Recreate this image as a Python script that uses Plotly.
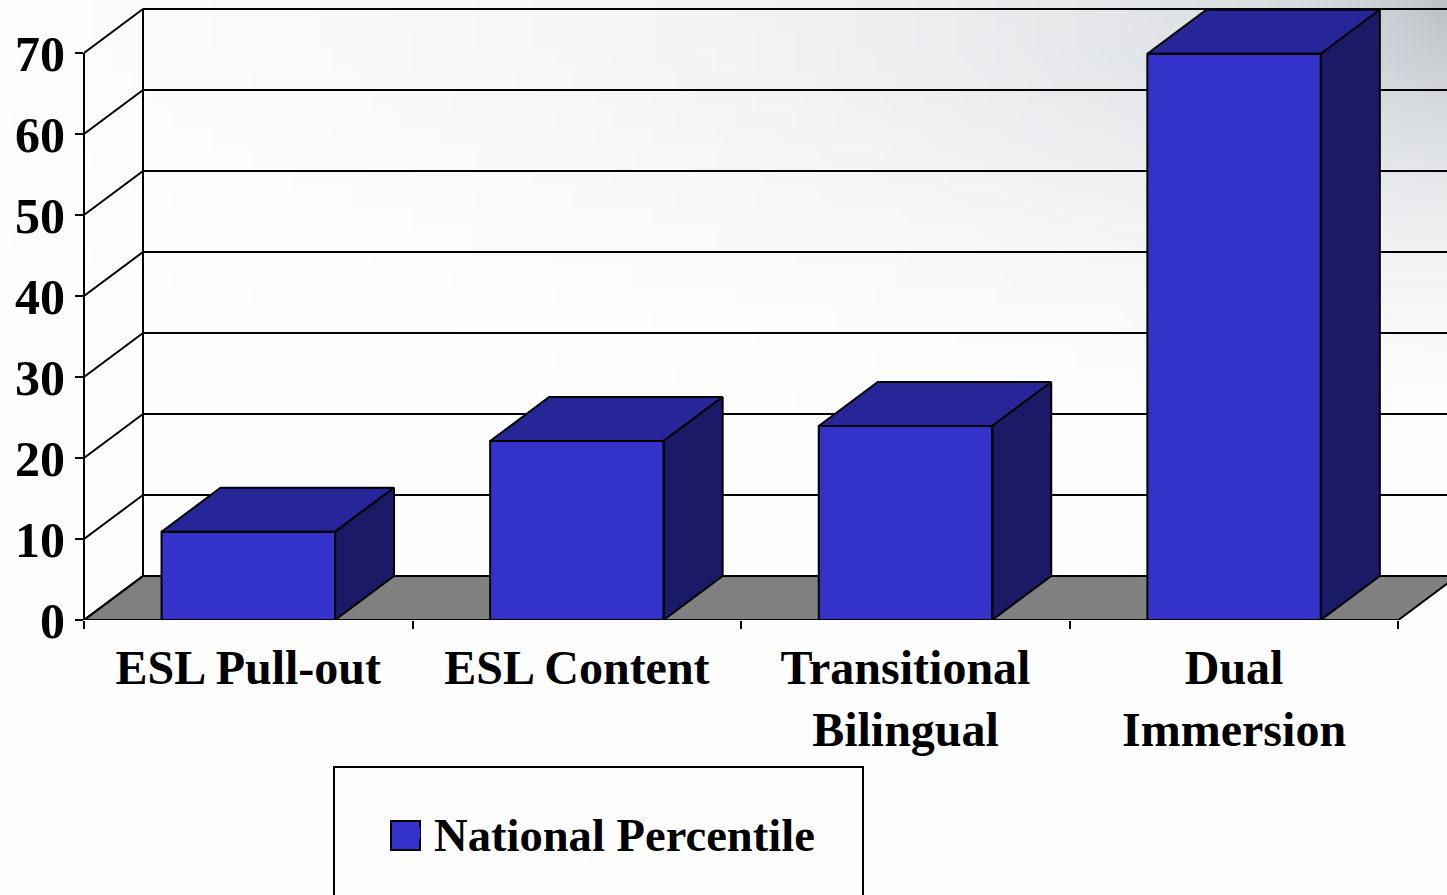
import base64, math, struct, zlib
import plotly.graph_objects as go

categories = ["ESL Pull-out", "ESL Content", "Transitional<br>Bilingual", "Dual<br>Immersion"]
values = [10.9, 22.1, 23.95, 69.9]
y_ticks = [0, 10, 20, 30, 40, 50, 60, 70]
series_name = "National Percentile"

W, H = 1447, 895
L, B_PX = 84, 620
CAT_PX, UNIT_PX = 328.6, 8.1
DX, DY = 59 / CAT_PX, 44 / UNIT_PX
BAR_W = 0.528
FRONT, TOP, SIDE, FLOOR = "#3333CC", "#262699", "#1A1A66", "#808080"
FONT = "Liberation Serif"
LW = 2

xpos = list(range(len(categories)))
x_lo, x_hi = -0.5, -0.5 + (W - L) / CAT_PX
y_hi = B_PX / UNIT_PX


def png_uri(w, h):
    rows = b""
    for j in range(h):
        rows += b"\0"
        for i in range(w):
            px, py = i / (w - 1), j / (h - 1)
            d = math.hypot(0.75 * (1 - px) ** 0.6, py / 0.6)
            t = max(0.0, 1 - d) ** 2.5
            rows += bytes((round(254 - 66 * t), round(254 - 60 * t), round(255 - 56 * t)))
    def chunk(k, d):
        return struct.pack(">I", len(d)) + k + d + struct.pack(">I", zlib.crc32(k + d))
    raw = b"\x89PNG\r\n\x1a\n" + chunk(b"IHDR", struct.pack(">IIBBBBB", w, h, 8, 2, 0, 0, 0)) \
        + chunk(b"IDAT", zlib.compress(rows)) + chunk(b"IEND", b"")
    return "data:image/png;base64," + base64.b64encode(raw).decode()


def line(x0, y0, x1, y1, w=LW):
    return dict(type="line", xref="x", yref="y", x0=x0, y0=y0, x1=x1, y1=y1,
                line=dict(color="black", width=w), layer="below")


x_back = x_lo + DX
shapes = [dict(type="path", xref="x", yref="y", layer="below", fillcolor=FLOOR,
               line=dict(color="black", width=LW),
               path=f"M{x_lo},0 L{x_back},{DY} L{3.5 + DX},{DY} L3.5,0 Z")]
for v in y_ticks:
    shapes.append(line(x_lo, v, x_back, v + DY))
    shapes.append(line(x_back, v + DY, x_hi, v + DY))
shapes.append(line(x_back, DY, x_back, y_ticks[-1] + DY))
shapes.append(line(x_lo, 0, 3.5, 0))
shapes.append(dict(type="line", xref="paper", yref="y", x0=0, x1=0, y0=0, y1=y_ticks[-1],
                   line=dict(color="black", width=LW), layer="below"))


def px(xp):
    return (xp - L) / (W - L)


def py(yp):
    return (B_PX - yp) / B_PX


shapes.append(dict(type="rect", xref="paper", yref="paper", x0=px(334), x1=px(863), y0=py(767), y1=py(905),
                   line=dict(color="black", width=LW), fillcolor="rgba(0,0,0,0)"))
shapes.append(dict(type="rect", xref="paper", yref="paper", x0=px(391), x1=px(420), y0=py(821), y1=py(850),
                   line=dict(color="black", width=LW), fillcolor=FRONT))

fig = go.Figure()
fig.add_trace(go.Bar(x=xpos, y=values, width=BAR_W, name=series_name, marker=dict(color=FRONT, line=dict(width=0)),
                     showlegend=True, hoverinfo="x+y"))

tx, ty, sx, sy, ox, oy = [], [], [], [], [], []
for c, v in zip(xpos, values):
    a, b = c - BAR_W / 2, c + BAR_W / 2
    tx += [a, a + DX, b + DX, b, a, None]
    ty += [v, v + DY, v + DY, v, v, None]
    sx += [b, b + DX, b + DX, b, b, None]
    sy += [0, DY, v + DY, v, 0, None]
    ox += [a, a, b, b, a, None]
    oy += [0, v, v, 0, 0, None]
for X, Y, col in ((tx, ty, TOP), (sx, sy, SIDE)):
    fig.add_trace(go.Scatter(x=X, y=Y, mode="lines", fill="toself", fillcolor=col,
                             line=dict(color="black", width=LW), showlegend=False, hoverinfo="skip"))
fig.add_trace(go.Scatter(x=ox, y=oy, mode="lines", line=dict(color="black", width=LW),
                         showlegend=False, hoverinfo="skip"))

fig.update_layout(
    width=W, height=H, margin=dict(l=L, r=0, t=0, b=H - B_PX, pad=0, autoexpand=False),
    paper_bgcolor="white", plot_bgcolor="rgba(0,0,0,0)", shapes=shapes,
    images=[dict(source=png_uri(72, 45), xref="paper", yref="paper", x=px(0), y=py(0),
                 sizex=W / (W - L), sizey=H / B_PX, sizing="stretch", layer="below",
                 xanchor="left", yanchor="top")],
    legend=dict(x=px(394), y=py(833), xanchor="left", yanchor="middle", itemwidth=30, bgcolor="rgba(0,0,0,0)",
                font=dict(family=FONT, size=46.6, color="black", weight=700)),
    xaxis=dict(range=[x_lo, x_hi], tickmode="array", tickvals=xpos, ticktext=categories, ticks="", showgrid=False,
               zeroline=False, showline=False, ticklabelstandoff=15,
               tickfont=dict(family=FONT, size=48, color="black", weight=700),
               minor=dict(tickmode="array", tickvals=[-0.5, 0.5, 1.5, 2.5, 3.5], ticks="outside", ticklen=8,
                          tickwidth=2, tickcolor="black", showgrid=False)),
    yaxis=dict(range=[0, y_hi], tickmode="array", tickvals=y_ticks, ticks="outside", ticklen=8, tickwidth=2,
               tickcolor="black", showgrid=False, zeroline=False, showline=False,
               tickfont=dict(family=FONT, size=50, color="black", weight=700)),
)
fig.write_html("out.html", config=dict(displayModeBar=False), post_script="document.body.style.margin='0';")
